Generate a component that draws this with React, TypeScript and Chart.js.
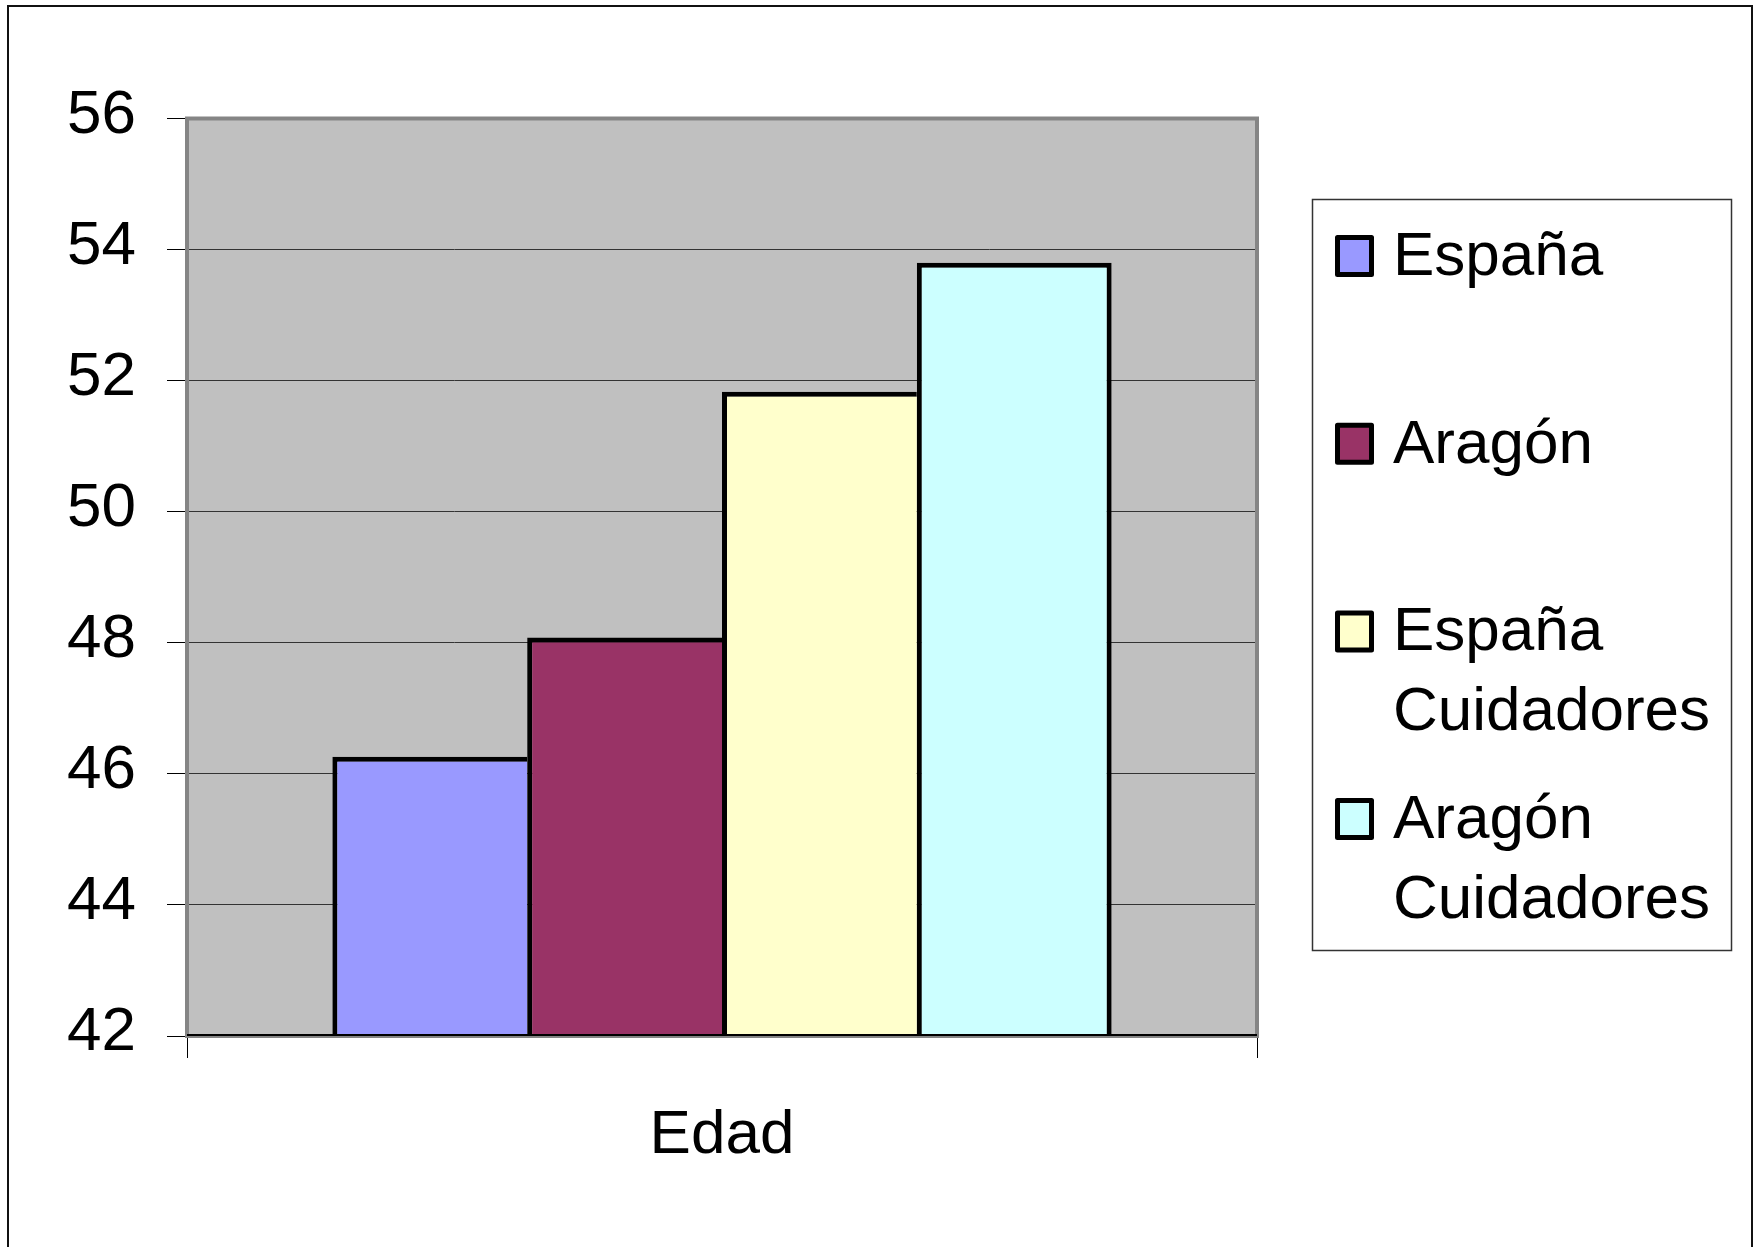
import React, { useEffect, useRef } from 'react';
import { Chart, registerables } from 'chart.js';

Chart.register(...registerables);

// ---- data ----
const categories = ['Edad'];
const seriesNames = ['España', 'Aragón', 'España Cuidadores', 'Aragón Cuidadores'];
const espana = [46.26];
const aragon = [48.08];
const espanaCuidadores = [51.83];
const aragonCuidadores = [53.8];
const seriesColors = ['#9999FF', '#993366', '#FFFFCC', '#CCFFFF'];
const yTicks = [42, 44, 46, 48, 50, 52, 54, 56];

const FONT = '"Liberation Sans", Arial, Helvetica, sans-serif';
const FONT_SIZE = 62;

function wrapText(ctx: CanvasRenderingContext2D, text: string, maxW: number): string[] {
  const words = text.split(' ');
  const lines: string[] = [];
  let cur = '';
  for (const w of words) {
    const test = cur ? cur + ' ' + w : w;
    if (cur && ctx.measureText(test).width > maxW) {
      lines.push(cur);
      cur = w;
    } else {
      cur = test;
    }
  }
  if (cur) lines.push(cur);
  return lines;
}

const backgroundPlugin = {
  id: 'plotBackground',
  beforeDraw(chart: any) {
    const { ctx, chartArea } = chart;
    ctx.save();
    ctx.fillStyle = '#FFFFFF';
    ctx.fillRect(0, 0, chart.width, chart.height);
    ctx.fillStyle = '#C0C0C0';
    ctx.fillRect(chartArea.left, chartArea.top, chartArea.right - chartArea.left, chartArea.bottom - chartArea.top);
    ctx.restore();
  },
  afterDatasetsDraw(chart: any) {
    const { ctx, chartArea } = chart;
    ctx.save();
    ctx.strokeStyle = '#858585';
    ctx.lineWidth = 4;
    ctx.strokeRect(chartArea.left, chartArea.top, chartArea.right - chartArea.left, chartArea.bottom - chartArea.top);
    ctx.strokeStyle = '#000000';
    ctx.lineWidth = 2;
    ctx.beginPath();
    ctx.moveTo(chartArea.left, chartArea.bottom - 1);
    ctx.lineTo(chartArea.right, chartArea.bottom - 1);
    ctx.stroke();
    ctx.restore();
  },
};

const legendPlugin = {
  id: 'boxedLegend',
  afterDraw(chart: any) {
    const ctx: CanvasRenderingContext2D = chart.ctx;
    ctx.save();
    // outer frame
    ctx.strokeStyle = '#111111';
    ctx.lineWidth = 2;
    ctx.strokeRect(8, 6, 1744, 1270);
    // legend box
    ctx.strokeStyle = '#333333';
    ctx.lineWidth = 1.5;
    ctx.strokeRect(1312.5, 199.5, 419, 751);
    ctx.font = `${FONT_SIZE}px ${FONT}`;
    ctx.textBaseline = 'alphabetic';
    ctx.textAlign = 'left';
    chart.data.datasets.forEach((ds: any, i: number) => {
      const base = 275 + i * 187.7;
      ctx.fillStyle = ds.backgroundColor;
      ctx.strokeStyle = '#000000';
      ctx.lineWidth = 5;
      ctx.lineJoin = 'round';
      ctx.beginPath();
      ctx.rect(1337.5, base - 37.5, 34, 37);
      ctx.fill();
      ctx.stroke();
      ctx.fillStyle = '#000000';
      const lines = wrapText(ctx, ds.label, 330);
      lines.forEach((ln, j) => ctx.fillText(ln, 1393, base + j * 79.5));
    });
    ctx.restore();
  },
};

export default function App() {
  const ref = useRef<HTMLCanvasElement>(null);
  useEffect(() => {
    document.body.style.overflow = 'hidden';
    const canvas = ref.current!;
    const allData = [espana, aragon, espanaCuidadores, aragonCuidadores];
    const last = seriesNames.length - 1;
    const chart = new Chart(canvas, {
      type: 'bar',
      data: {
        labels: categories,
        datasets: seriesNames.map((name, i) => ({
          label: name,
          data: allData[i],
          backgroundColor: seriesColors[i],
          borderColor: '#000000',
          borderWidth: { top: 5, left: 5, right: i === last ? 5 : 0, bottom: 0 },
          borderSkipped: false,
          categoryPercentage: 0.7283,
          barPercentage: 1,
        })),
      },
      options: {
        responsive: false,
        animation: false,
        devicePixelRatio: 1,
        layout: { padding: { left: 0, top: 118.5, right: 501, bottom: 61 } },
        plugins: {
          legend: { display: false },
          tooltip: { enabled: false },
        },
        scales: {
          x: {
            type: 'category',
            offset: true,
            grid: {
              offset: true,
              drawOnChartArea: false,
              drawTicks: true,
              tickLength: 22,
              color: '#000000',
              lineWidth: 1,
            },
            border: { display: false },
            ticks: {
              font: { family: FONT, size: FONT_SIZE },
              color: '#000000',
              padding: 41,
              maxRotation: 0,
            },
            afterFit: (s: any) => {
              s.height = 150;
            },
          },
          y: {
            type: 'linear',
            min: 42,
            max: 56,
            afterBuildTicks: (s: any) => {
              s.ticks = yTicks.map((v) => ({ value: v }));
            },
            ticks: {
              font: { family: FONT, size: FONT_SIZE },
              color: '#000000',
              padding: 31,
              labelOffset: -3,
            },
            grid: {
              color: '#333333',
              tickColor: '#000000',
              tickLength: 20,
              lineWidth: 1,
            },
            border: { display: false },
            afterFit: (s: any) => {
              s.width = 187;
            },
          },
        },
      } as any,
      plugins: [backgroundPlugin, legendPlugin],
    });
    return () => chart.destroy();
  }, []);
  return (
    <div
      style={{
        position: 'absolute',
        left: 0,
        top: 0,
        width: 1758,
        height: 1247,
        overflow: 'hidden',
        background: '#FFFFFF',
      }}
    >
      <canvas ref={ref} width={1758} height={1247} style={{ display: 'block' }} />
    </div>
  );
}
